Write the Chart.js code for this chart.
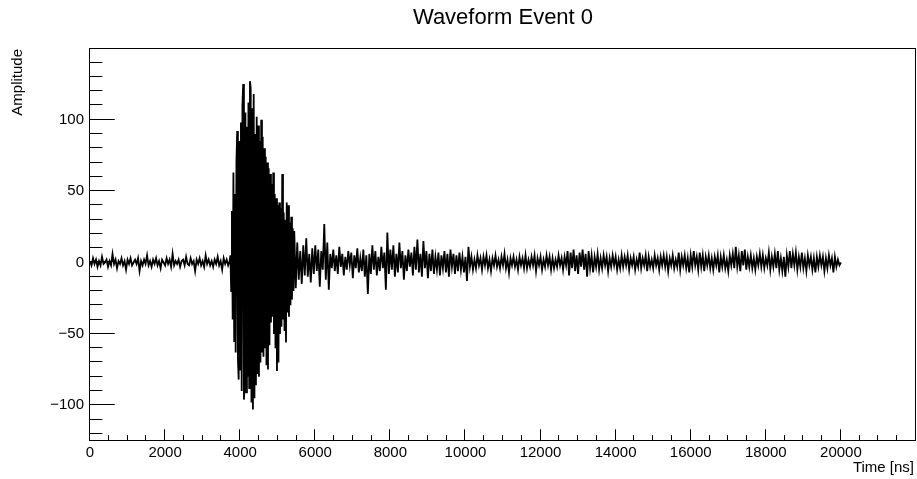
<!DOCTYPE html>
<html>
<head>
<meta charset="utf-8">
<script src="https://cdn.jsdelivr.net/npm/chart.js@4.4.1/dist/chart.umd.min.js"></script>
<style>
  html, body { margin: 0; padding: 0; background: #fff; }
</style>
</head>
<body>
<canvas id="wave" width="917" height="479"></canvas>
<script>
const chartTitle = 'Waveform Event 0';
const xTitle = 'Time [ns]';
const yTitle = 'Amplitude';

// baseline before the pulse: 0 .. 3720 ns, one sample every 40 ns
const preStart = 0;
const preStep = 40;
const preAmplitude = [
  1,-2,3,-1,2,-3,1,-2,4,-1,
  0,2,-3,1,-2,6,-1,2,-4,1,
  -1,3,-2,1,-5,2,-1,3,-2,0,
  2,-1,3,-6,1,-2,2,-1,5,-2,
  1,-3,2,-1,3,-2,1,-4,2,0,
  -2,3,-1,2,-3,6,-2,1,-1,2,
  -3,1,2,-2,4,-1,-2,3,-1,1,
  -6,2,-1,3,-2,1,-3,5,-1,2,
  -2,1,-3,2,-1,4,-2,1,-5,3,
  -1,2,-2,1
];

// the pulse: 3740 .. 5420 ns, one sample every 20 ns
const burstStart = 3740;
const burstStep = 20;
const burstAmplitude = [
  5,-20,36,-40,63,-55,48,-63,70,92,
  -68,-82,85,-75,98,-90,110,125,-96,-85,
  105,-91,95,-80,112,-88,127,122,-98,108,
  -103,118,-95,90,-86,102,-78,96,-80,85,
  -70,100,-63,88,-66,80,-60,74,-72,70,
  -75,66,-58,62,-42,55,-38,63,-50,48,
  -60,45,-76,40,-70,42,-50,38,-45,62,
  -40,35,-48,30,-56,42,-35,40,-38,28,
  -30,32,-26,24,-20
];

// ringing and tail: 5440 .. 20000 ns, one sample every 40 ns
const tailStart = 5440;
const tailStep = 40;
const tailAmplitude = [
  22,-18,14,-12,
  8,-15,12,-9,17,-10,6,-14,10,-8,
  12,-6,9,-17,8,-5,27,-12,14,-19,
  6,-4,9,-6,5,-8,11,-3,6,-9,
  4,-5,8,-2,7,-11,5,-4,10,-7,
  3,-6,9,-10,5,-22,6,-8,12,-5,
  8,-9,4,-6,11,-4,7,-19,21,-8,
  9,-5,12,-10,6,-7,14,-4,8,-12,
  5,-6,9,-3,7,-9,11,-5,16,-7,
  6,-10,15,-4,8,-11,6,-6,9,-8,
  4,-5,7,-9,5,-4,8,-7,6,-10,
  9,-3,6,-8,5,-6,7,-5,4,-7,
  4,-13,11,-3,4,-5,2,-4,5,-2,
  3,-5,4,-2,5,-4,2,-6,3,-2,
  5,-3,2,-4,4,-2,6,-4,2,-7,
  3,-2,4,-3,2,-5,4,-2,3,-4,
  5,-4,2,-3,4,-2,5,-6,3,-2,
  4,-5,2,-3,5,-2,4,-5,3,-4,
  2,-3,5,-2,3,-5,4,-2,8,-9,
  7,-4,9,-6,5,-8,7,-3,9,-5,
  6,-10,8,-4,5,-7,4,-3,6,-5,
  3,-4,5,-2,4,-6,3,-3,5,-2,
  4,-5,2,-4,5,-3,4,-2,5,-5,
  3,-2,4,-5,2,-3,7,-4,3,-2,
  5,-6,4,-3,2,-4,5,-2,3,-5,
  4,-2,5,-3,4,-6,3,-2,5,-4,
  2,-3,7,-5,4,-2,5,-4,3,-7,
  5,-3,8,-2,4,-5,7,-3,5,-6,
  4,-2,5,-4,3,-5,4,-2,5,-7,
  4,-3,5,-4,2,-6,5,-2,6,-4,
  11,-3,5,-6,8,-2,9,-5,4,-3,
  5,-4,3,-5,4,-2,6,-3,5,-4,
  3,-2,7,-5,4,-3,6,-4,8,-5,
  3,-6,4,-10,5,-3,8,-4,6,-2,
  7,-5,4,-3,7,-4,3,-6,5,-2,
  4,-5,3,-7,4,-3,5,-2,4,-6,
  3,-4,5,-2,3,-7,4,-3,2,-2,
  0
];

const xRange = [0, 22000];
const yRange = [-125, 149.5];
const xLabels = [0, 2000, 4000, 6000, 8000, 10000, 12000, 14000, 16000, 18000, 20000];
const yLabels = [-100, -50, 0, 50, 100];
const xMinorStep = 500;
const yMinorStep = 10;

const FONT = '"Liberation Sans", Arial, Helvetica, sans-serif';

const toPoints = (values, start, step) => values.map((v, i) => ({ x: start + i * step, y: v }));
const points = [
  ...toPoints(preAmplitude, preStart, preStep),
  ...toPoints(burstAmplitude, burstStart, burstStep),
  ...toPoints(tailAmplitude, tailStart, tailStep)
];

// ROOT style frame: box, inward ticks on the left and bottom, titles
const rootFrame = {
  id: 'rootFrame',
  afterDatasetsDraw(chart) {
    const { ctx, chartArea: a, scales: { x, y } } = chart;
    ctx.save();
    ctx.strokeStyle = '#000';
    ctx.lineWidth = 1;
    ctx.strokeRect(a.left - 0.5, a.top - 0.5, a.right - a.left, a.bottom - a.top);

    const yMajor = 0.03 * (a.right - a.left);
    const xMajor = 0.03 * (a.bottom - a.top);
    ctx.beginPath();
    for (let v = Math.ceil(yRange[0] / yMinorStep) * yMinorStep; v <= yRange[1]; v += yMinorStep) {
      const py = Math.round(y.getPixelForValue(v)) - 0.5;
      const len = v % 50 === 0 ? yMajor : yMajor / 2;
      ctx.moveTo(a.left, py);
      ctx.lineTo(a.left + len, py);
    }
    for (let v = xRange[0]; v <= xRange[1]; v += xMinorStep) {
      const px = Math.round(x.getPixelForValue(v)) - 0.5;
      const len = v % 2000 === 0 ? xMajor : xMajor / 2;
      ctx.moveTo(px, a.bottom);
      ctx.lineTo(px, a.bottom - len);
    }
    ctx.stroke();

    ctx.fillStyle = '#000';
    ctx.font = '22px ' + FONT;
    ctx.textAlign = 'center';
    ctx.textBaseline = 'middle';
    ctx.fillText(chartTitle, (a.left + a.right) / 2, 18);

    ctx.font = '15px ' + FONT;
    ctx.textAlign = 'right';
    ctx.fillText(xTitle, 914, 468);

    ctx.translate(18, a.top);
    ctx.rotate(-Math.PI / 2);
    ctx.textAlign = 'right';
    ctx.fillText(yTitle, 0, 0);
    ctx.restore();
  }
};

new Chart(document.getElementById('wave').getContext('2d'), {
  type: 'scatter',
  data: {
    datasets: [{
      data: points,
      showLine: true,
      borderColor: '#000',
      borderWidth: 1.8,
      pointRadius: 0,
      tension: 0
    }]
  },
  options: {
    responsive: false,
    animation: false,
    layout: { padding: { top: 49, right: 1, left: 0, bottom: 0 } },
    plugins: { legend: { display: false }, tooltip: { enabled: false } },
    scales: {
      x: {
        type: 'linear',
        min: xRange[0],
        max: xRange[1],
        grid: { display: false, drawTicks: false },
        border: { display: false },
        afterBuildTicks: (s) => { s.ticks = xLabels.map(v => ({ value: v })); },
        afterFit: (s) => { s.height = 38; },
        ticks: {
          color: '#000',
          font: { family: FONT, size: 15 },
          padding: 3,
          maxRotation: 0,
          autoSkip: false,
          callback: (v) => String(v)
        }
      },
      y: {
        type: 'linear',
        min: yRange[0],
        max: yRange[1],
        grid: { display: false, drawTicks: false },
        border: { display: false },
        afterBuildTicks: (s) => { s.ticks = yLabels.map(v => ({ value: v })); },
        afterFit: (s) => { s.width = 90; },
        ticks: {
          color: '#000',
          font: { family: FONT, size: 15 },
          padding: 6,
          callback: (v) => (v < 0 ? '\u2212' + Math.abs(v) : String(v))
        }
      }
    }
  },
  plugins: [rootFrame]
});
</script>
</body>
</html>
